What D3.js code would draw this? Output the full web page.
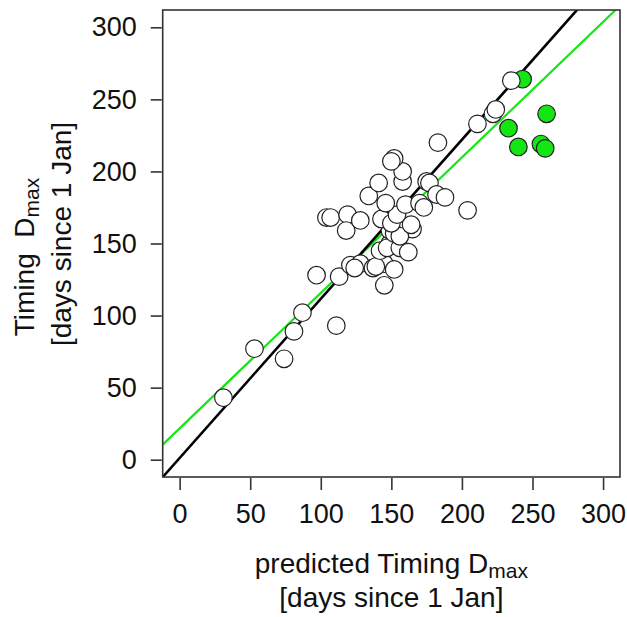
<!DOCTYPE html>
<html>
<head>
<meta charset="utf-8">
<script src="https://cdn.jsdelivr.net/npm/d3@7"></script>
<style>
    body { margin: 0; background: #fff; }
    svg  { display: block; font-family: 'Liberation Sans', Arial, sans-serif; }
    .tickLabel { font-size: 27px; fill: #111; }
    .axisTitle { font-size: 28px; fill: #111; white-space: pre; }
</style>
</head>
<body>
<div id="graph"></div>
<script>

// predicted vs observed timing (days since 1 Jan), open circles
var predWhite = [ 31, 53, 74, 81, 87, 111, 97, 113, 121, 128, 124, 137, 145, 145, 152, 139,
                  142, 149, 147, 156, 162, 158, 165, 149, 152, 156, 143, 150, 104, 107, 119, 118,
                  128, 154, 164, 134, 146, 160, 170, 173, 141, 158, 158, 152, 150, 175, 177, 182,
                  188, 183, 204, 211, 222, 224, 235 ];
var obsWhite  = [ 43, 77, 70, 89, 102, 93, 128, 127, 135, 136, 133, 133, 121, 136, 132, 134,
                  145, 150, 147, 147, 144, 159, 160, 159, 157, 155, 167, 164, 168, 168, 170, 159,
                  166, 170, 163, 183, 178, 177, 178, 175, 192, 193, 200, 209, 207, 193, 192, 184,
                  182, 220, 173, 233, 240, 243, 263 ];

// filled green circles
var predGreen = [ 243, 260, 233, 240, 256, 259 ];
var obsGreen  = [ 264, 240, 230, 217, 219, 216 ];

// fitted lines: [intercept, slope]
var blackFit = [ 1.2, 1.104 ];
var greenFit = [ 21.7, 0.94 ];

var xTicks = [ 0, 50, 100, 150, 200, 250, 300 ];
var yTicks = [ 0, 50, 100, 150, 200, 250, 300 ];
var axisLimits = [ -12, 312 ];

function D3App ()
{
    var width  = 627;
    var height = 617;
    var plot = { left: 162.7, right: 620, top: 10, bottom: 477 };
    var green = '#14e614';

    var svg = d3.select ('#graph')
                .append ('svg')
                .attr ('width', width)
                .attr ('height', height);

    var xScale = d3.scaleLinear ()
                   .domain (axisLimits)
                   .range ( [ plot.left, plot.right ] );

    var yScale = d3.scaleLinear ()
                   .domain (axisLimits)
                   .range ( [ plot.bottom, plot.top ] );

    svg.append ('clipPath')
       .attr ('id', 'plotArea')
       .append ('rect')
       .attr ('x', plot.left)
       .attr ('y', plot.top)
       .attr ('width', plot.right - plot.left)
       .attr ('height', plot.bottom - plot.top);

    // fitted lines, clipped to the box
    var fitLine = d3.line ()
                    .x (function(d) { return xScale(d[0]); })
                    .y (function(d) { return yScale(d[1]); });

    function fitPoints (fit)
    {
        return axisLimits.map (function(x) { return [ x, fit[0] + fit[1]*x ]; });
    }

    svg.append ('path')
       .datum (fitPoints (greenFit))
       .attr ('d', fitLine)
       .attr ('clip-path', 'url(#plotArea)')
       .style ('fill', 'none')
       .style ('stroke', green)
       .style ('stroke-width', 2.2);

    svg.append ('path')
       .datum (fitPoints (blackFit))
       .attr ('d', fitLine)
       .attr ('clip-path', 'url(#plotArea)')
       .style ('fill', 'none')
       .style ('stroke', '#000')
       .style ('stroke-width', 2.6);

    // points: green first, open circles on top
    svg.append ('g')
       .selectAll ('circle')
       .data (d3.range (predGreen.length))
       .enter ()
       .append ('circle')
       .attr ('cx', function(i) { return xScale(predGreen[i]); })
       .attr ('cy', function(i) { return yScale(obsGreen[i]); })
       .attr ('r', 8.8)
       .style ('fill', green)
       .style ('stroke', '#222')
       .style ('stroke-width', 1.2);

    svg.append ('g')
       .selectAll ('circle')
       .data (d3.range (predWhite.length))
       .enter ()
       .append ('circle')
       .attr ('cx', function(i) { return xScale(predWhite[i]); })
       .attr ('cy', function(i) { return yScale(obsWhite[i]); })
       .attr ('r', 8.8)
       .style ('fill', '#fff')
       .style ('stroke', '#222')
       .style ('stroke-width', 1.2);

    // box
    svg.append ('rect')
       .attr ('x', plot.left)
       .attr ('y', plot.top)
       .attr ('width', plot.right - plot.left)
       .attr ('height', plot.bottom - plot.top)
       .style ('fill', 'none')
       .style ('stroke', '#333')
       .style ('stroke-width', 1.6);

    // axes
    var xAxis = d3.axisBottom (xScale)
                  .tickValues (xTicks)
                  .tickSize (12)
                  .tickPadding (14);

    var yAxis = d3.axisLeft (yScale)
                  .tickValues (yTicks)
                  .tickSize (11)
                  .tickPadding (14);

    var gx = svg.append ('g')
                .attr ('transform', 'translate(0,' + (plot.bottom + 1) + ')')
                .call (xAxis);

    var gy = svg.append ('g')
                .attr ('transform', 'translate(' + (plot.left - 1) + ',0)')
                .call (yAxis);

    [gx, gy].forEach (function(g)
    {
        g.select ('.domain').remove ();
        g.selectAll ('line').style ('stroke', '#333').style ('stroke-width', 1.6);
        g.selectAll ('text')
         .attr ('class', 'tickLabel')
         .style ('font-size', '27px')
         .style ('font-family', "'Liberation Sans', Arial, sans-serif")
         .style ('fill', '#111');
    } );

    // axis titles
    var xMid = (plot.left + plot.right) / 2;

    var xt = svg.append ('text')
                .attr ('class', 'axisTitle')
                .attr ('x', xMid)
                .attr ('y', 573)
                .attr ('text-anchor', 'middle')
                .text ('predicted Timing D');
    xt.append ('tspan')
      .attr ('dy', 5)
      .style ('font-size', '21px')
      .text ('max');

    svg.append ('text')
       .attr ('class', 'axisTitle')
       .attr ('x', xMid)
       .attr ('y', 607)
       .attr ('text-anchor', 'middle')
       .text ('[days since 1 Jan]');

    var yt = svg.append ('text')
                .attr ('class', 'axisTitle')
                .attr ('transform', 'translate(34,257) rotate(-90)')
                .attr ('text-anchor', 'middle')
                .text ('Timing  D');
    yt.append ('tspan')
      .attr ('dy', 5)
      .style ('font-size', '21px')
      .text ('max');

    svg.append ('text')
       .attr ('class', 'axisTitle')
       .attr ('transform', 'translate(71,234) rotate(-90)')
       .attr ('text-anchor', 'middle')
       .text ('[days since 1 Jan]');
}

D3App ();
</script>
</body>
</html>
